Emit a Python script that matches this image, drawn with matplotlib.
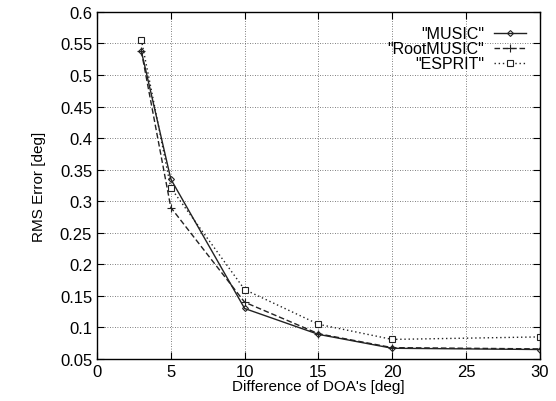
import matplotlib
matplotlib.use("Agg")
import matplotlib.pyplot as plt

plt.rcParams["font.family"] = ["Liberation Sans", "DejaVu Sans"]

# RMS error of the DOA estimators vs. angular separation
doa_diff = [3, 5, 10, 15, 20, 30]
music = [0.538, 0.335, 0.130, 0.089, 0.067, 0.065]
root_music = [0.538, 0.290, 0.140, 0.090, 0.068, 0.066]
esprit = [0.556, 0.321, 0.160, 0.105, 0.081, 0.085]

x_ticks = [0, 5, 10, 15, 20, 25, 30]
y_ticks = [0.05, 0.1, 0.15, 0.2, 0.25, 0.3, 0.35, 0.4, 0.45, 0.5, 0.55, 0.6]

fig = plt.figure(figsize=(5.56, 4.02), dpi=100)
ax = fig.add_axes([0.1745, 0.1045, 0.7965, 0.8635])

ax.plot(doa_diff, music, "-", color="#222", lw=1.0, marker="D", ms=3,
        mfc="none", mec="#222", mew=0.8, label='"MUSIC"')
ax.plot(doa_diff, root_music, color="#222", lw=1.0, ls=(0, (4, 2)), marker="+",
        ms=6, mew=0.8, label='"RootMUSIC"')
ax.plot(doa_diff, esprit, color="#222", lw=1.0, ls=(0, (1, 2)), marker="s",
        ms=5, mfc="white", mec="#222", mew=0.8, label='"ESPRIT"')

ax.set_xlim(0, 30)
ax.set_ylim(0.05, 0.6)
ax.set_xticks(x_ticks)
ax.set_yticks(y_ticks)
ax.set_yticklabels([f"{v:g}" for v in y_ticks])
ax.tick_params(direction="in", top=True, right=True, labelsize=12, length=5)
ax.grid(True, ls=(0, (1, 2)), color="#555", lw=0.6)
for s in ax.spines.values():
    s.set_linewidth(1.0)

ax.set_xlabel("Difference of DOA's [deg]", fontsize=11, labelpad=0)
ax.set_ylabel("RMS Error [deg]", fontsize=11, labelpad=10)

ax.legend(loc="upper right", frameon=False, markerfirst=False, fontsize=11.5,
          handlelength=2.0, labelspacing=0.0, borderaxespad=0.5, handletextpad=0.6)

fig.savefig("out.png", dpi=100)
